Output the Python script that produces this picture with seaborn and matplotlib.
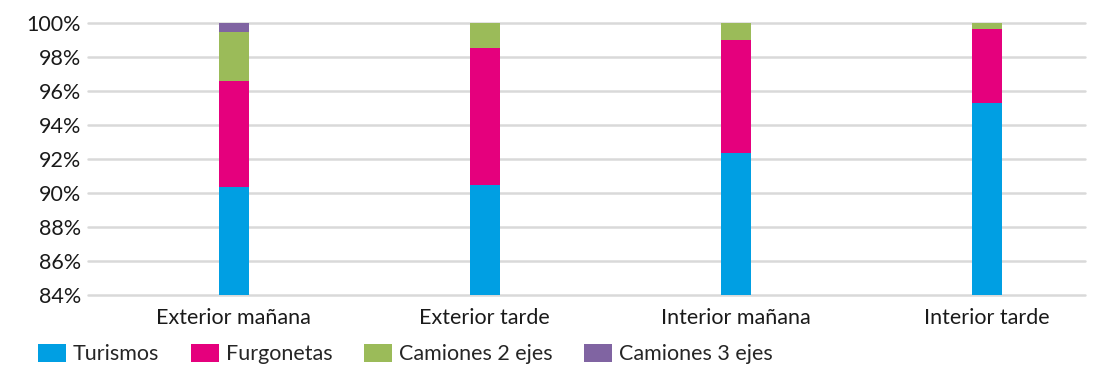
import matplotlib
matplotlib.use("Agg")
import matplotlib.pyplot as plt
import seaborn as sns
import numpy as np
from matplotlib.patches import Patch

categories = ["Exterior mañana", "Exterior tarde", "Interior mañana", "Interior tarde"]
series_names = ["Turismos", "Furgonetas", "Camiones 2 ejes", "Camiones 3 ejes"]
turismos = [90.37, 90.47, 92.33, 95.31]
furgonetas = [6.22, 8.06, 6.67, 4.32]
camiones2 = [2.90, 1.47, 1.00, 0.37]
camiones3 = [0.51, 0.00, 0.00, 0.00]
yticks = [84, 86, 88, 90, 92, 94, 96, 98, 100]

colors = ["#009FE3", "#E5007D", "#9BBB59", "#8064A2"]

sns.set_theme(style="white")
plt.rcParams['font.family'] = ['Lato', 'DejaVu Sans']

FS = 15.5
fig = plt.figure(figsize=(10.94, 3.66), dpi=100)
ax = fig.add_axes([88/1094, 1-295/366, (1085-88)/1094, (295-23)/366])

bottom = np.zeros(len(categories))
for name, vals, col in zip(series_names, [turismos, furgonetas, camiones2, camiones3], colors):
    sns.barplot(x=categories, y=vals, bottom=bottom, color=col, width=0.12,
                ax=ax, linewidth=0, saturation=1, zorder=3)
    bottom = bottom + np.array(vals)

ax.set_ylim(84, 100)
ax.set_xlim(-0.58, 3.39)
ax.set_yticks(yticks)
ax.set_yticklabels([f"{t}%" for t in yticks], fontsize=FS, color="#1a1a1a")
ax.tick_params(axis='x', length=0, pad=9, labelsize=FS, labelcolor="#1a1a1a")
ax.tick_params(axis='y', length=0, pad=5)
for t in yticks:
    ax.axhline(t, color="#d9d9d9", lw=1.8, zorder=1, clip_on=False)
for s in ax.spines.values():
    s.set_visible(False)
ax.set_xlabel("")
ax.set_ylabel("")

handles = [Patch(facecolor=c, edgecolor='none') for c in colors]
fig.legend(handles, series_names, loc='center left', bbox_to_anchor=(38/1094, 1-354/366),
           ncol=4, frameon=False, fontsize=FS, handlelength=1.3, handleheight=0.95,
           handletextpad=0.33, columnspacing=1.45, borderaxespad=0, borderpad=0)

fig.savefig("out.png", dpi=100)
